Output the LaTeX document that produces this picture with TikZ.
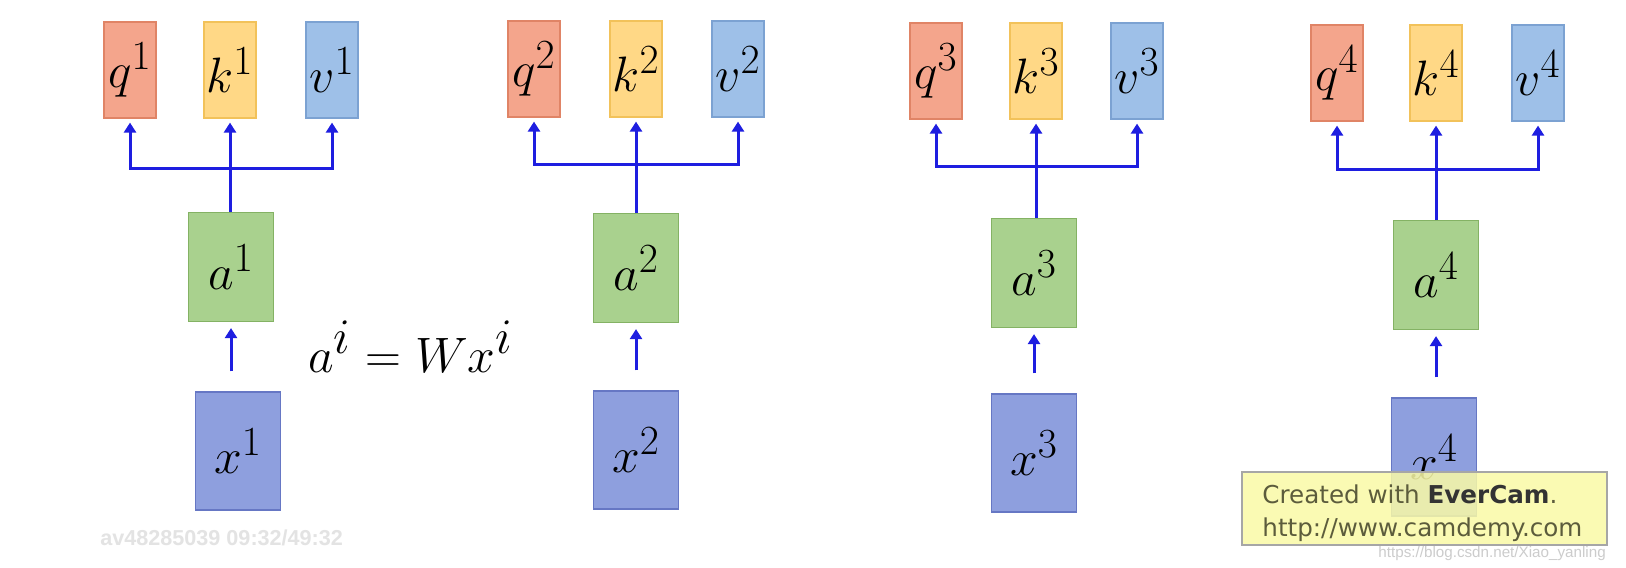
\documentclass[tikz,border=0pt]{standalone}
\usepackage{fontspec}
\newfontfamily\camfont{DejaVu Sans}
\newfontfamily\markfont{Liberation Sans}
\usepackage{tikz}
\usetikzlibrary{positioning, arrows.meta}

\definecolor{qfill}{HTML}{F4A58C}
\definecolor{qline}{HTML}{E08466}
\definecolor{kfill}{HTML}{FFD886}
\definecolor{kline}{HTML}{F2C25A}
\definecolor{vfill}{HTML}{9EC0E8}
\definecolor{vline}{HTML}{7CA2D2}
\definecolor{afill}{HTML}{A9D18E}
\definecolor{aline}{HTML}{84B264}
\definecolor{xfill}{HTML}{8E9FDE}
\definecolor{xline}{HTML}{6677C4}
\definecolor{arrblue}{HTML}{1E1EE0}
\definecolor{camfill}{HTML}{FAFAA6}
\definecolor{camtext}{HTML}{5C5C3C}

\tikzset{
  box/.style={draw, line width=0.6pt, inner sep=0pt, font=\fontsize{32}{36}\selectfont},
  qbox/.style={box, fill=qfill, draw=qline, minimum width=26pt, minimum height=48pt},
  kbox/.style={box, fill=kfill, draw=kline, minimum width=26pt, minimum height=48pt},
  vbox/.style={box, fill=vfill, draw=vline, minimum width=26pt, minimum height=48pt},
  abox/.style={box, fill=afill, draw=aline, minimum width=42.5pt, minimum height=54.5pt},
  xbox/.style={box, fill=xfill, draw=xline, minimum width=42.5pt, minimum height=59pt},
  link/.style={draw=arrblue, line width=1.5pt},
  arr/.style={link, -{Triangle[width=6pt, length=5pt]}, shorten >=2pt}
}

\begin{document}
\begin{tikzpicture}[x=0.5pt, y=-0.5pt]
\useasboundingbox[fill=white] (0,0) rectangle (1626,567);

% four tokens: x -> a -> q, k, v
\foreach \i/\qx/\kx/\vx/\ty/\by/\ax/\ay/\xx/\xy in
  {1/130/230/332/70/168/231/267/238/451,
   2/534/636/738/69/164/636/268/636/450,
   3/936/1036/1137/71/166/1034/273/1034/453,
   4/1337/1436/1538/73/169/1436/275/1434/457}
{
  \node[qbox] (q\i) at (\qx,\ty) {$q^{\i}$};
  \node[kbox] (k\i) at (\kx,\ty) {$k^{\i}$};
  \node[vbox] (v\i) at (\vx,\ty) {$v^{\i}$};
  \node[abox] (a\i) at (\ax,\ay) {$a^{\i}$};
  \node[xbox] (x\i) at (\xx,\xy) {$x^{\i}$};
  \coordinate (b\i) at (\kx,\by);
  \draw[link] (a\i.north -| b\i) -- (b\i);
  \draw[arr] (b\i) -| (q\i.south);
  \draw[arr] (b\i) -- (k\i.south);
  \draw[arr] (b\i) -| (v\i.south);
  \draw[arr, shorten <=10pt, shorten >=3pt] (x\i.north -| a\i) -- (a\i.south);
}

\node[anchor=base west, inner sep=0pt, font=\fontsize{34}{38}\selectfont] (eq) at (308,372) {$a^i \mathrel{=} Wx^i$};

% recording watermarks
\node[anchor=west, inner sep=0pt, text=gray!22, font=\markfont\bfseries\fontsize{10.8}{12}\selectfont] (bili) at (100,538) {av48285039 09:32/49:32};
\node[draw=gray!70, line width=0.8pt, fill=camfill, fill opacity=0.85, text opacity=1, minimum width=182.5pt, minimum height=36.5pt] (cam) at (1424.5,508.5) {};
\node[anchor=base west, inner sep=0pt, text=camtext, font=\camfont\fontsize{12.3}{14}\selectfont] (cam1) at (1262,503) {Created with \textbf{\color{black!80}EverCam}.};
\node[anchor=base west, inner sep=0pt, text=camtext, font=\camfont\fontsize{12.3}{14}\selectfont] (cam2) at (1262,536) {http://www.camdemy.com};
\node[anchor=base west, inner sep=0pt, text=gray!40, font=\markfont\fontsize{7.6}{9}\selectfont] (csdn) at (1378,557) {https://blog.csdn.net/Xiao\_yanling};
\end{tikzpicture}
\end{document}
